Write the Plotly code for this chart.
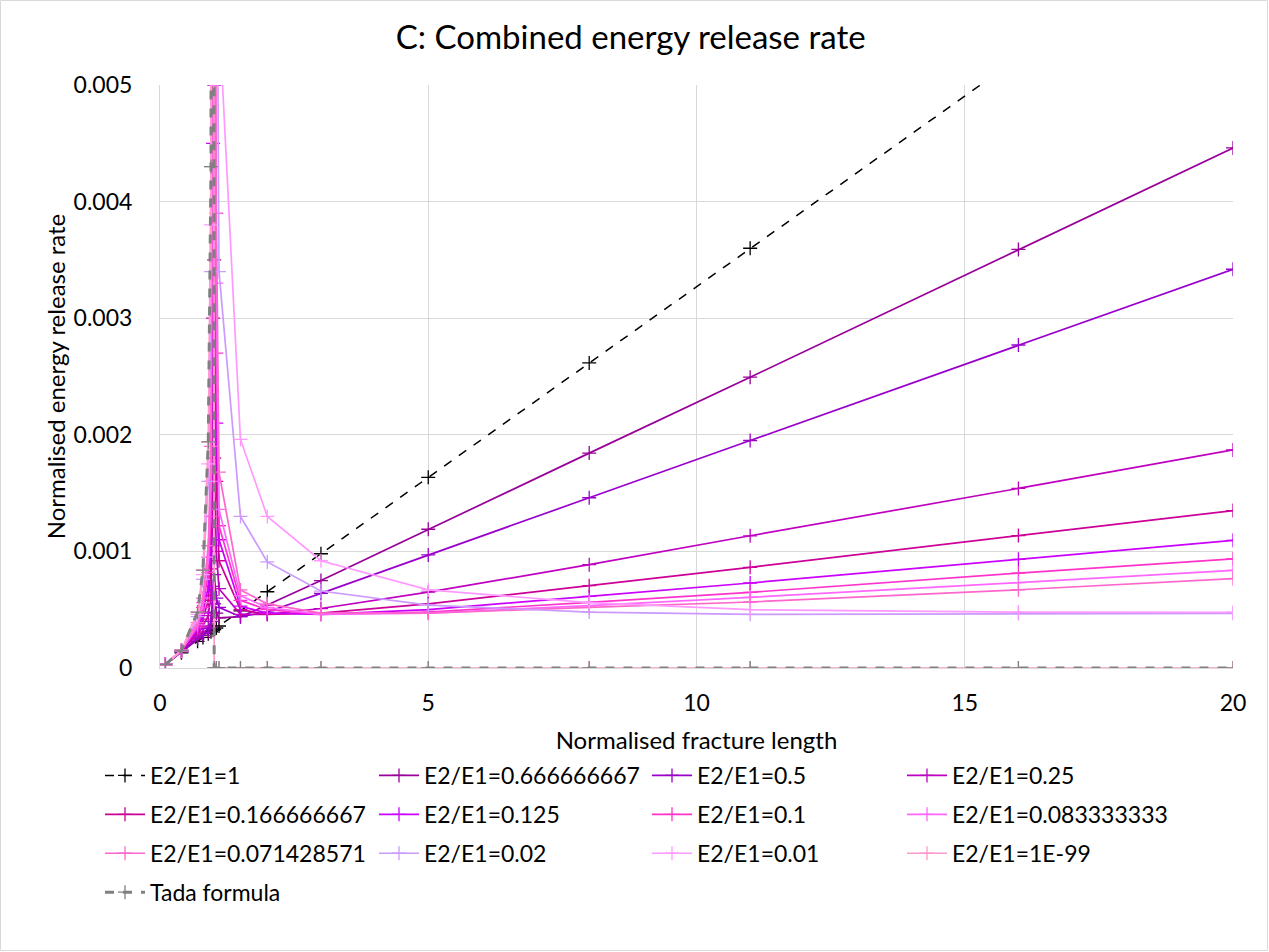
import plotly.graph_objects as go

# ---------------- data ----------------
x_pts = [0.1, 0.4, 0.7, 0.8, 0.9, 0.95, 0.99, 1.01, 1.05, 1.1, 1.5, 2, 3, 5, 8, 11, 16, 20]

ratio_1 = [0.033, 0.13, 0.229, 0.262, 0.294, 0.311, 0.324, 0.33, 0.343, 0.36, 0.49, 0.654, 0.98, 1.635, 2.616, 3.6, 5.23, 6.54]
ratio_0_6667 = [0.03, 0.14, 0.25, 0.28, 0.31, 0.35, 0.48, 0.55, 0.47, 0.43, 0.44, 0.54, 0.75, 1.19, 1.843, 2.494, 3.59, 4.46]
ratio_0_5 = [0.03, 0.14, 0.26, 0.30, 0.34, 0.40, 0.70, 0.80, 0.60, 0.52, 0.44, 0.48, 0.64, 0.97, 1.46, 1.951, 2.77, 3.42]
ratio_0_25 = [0.03, 0.145, 0.29, 0.36, 0.45, 0.62, 1.6, 1.8, 1.0, 0.68, 0.46, 0.46, 0.51, 0.65, 0.886, 1.134, 1.54, 1.87]
ratio_0_1667 = [0.03, 0.15, 0.31, 0.42, 0.58, 0.85, 3.0, 3.5, 1.6, 0.92, 0.50, 0.46, 0.47, 0.55, 0.706, 0.863, 1.136, 1.35]
ratio_0_125 = [0.03, 0.15, 0.33, 0.47, 0.70, 1.05, 4.5, 5.0, 2.1, 1.10, 0.53, 0.47, 0.46, 0.50, 0.614, 0.729, 0.932, 1.095]
ratio_0_1 = [0.03, 0.15, 0.35, 0.52, 0.82, 1.3, 6.0, 6.5, 2.7, 1.22, 0.58, 0.50, 0.46, 0.48, 0.563, 0.649, 0.814, 0.936]
ratio_0_0833 = [0.03, 0.15, 0.37, 0.56, 0.95, 1.6, 7.5, 8.0, 3.3, 1.36, 0.62, 0.52, 0.46, 0.47, 0.535, 0.606, 0.732, 0.837]
ratio_0_0714 = [0.03, 0.15, 0.39, 0.60, 1.05, 1.9, 9.0, 9.5, 3.9, 1.68, 0.67, 0.55, 0.47, 0.47, 0.52, 0.566, 0.671, 0.766]
ratio_0_02 = [0.03, 0.15, 0.44, 0.76, 1.6, 3.4, 20, 20, 7.4, 3.4, 1.3, 0.91, 0.66, 0.54, 0.48, 0.46, 0.468, 0.468]
ratio_0_01 = [0.03, 0.15, 0.46, 0.80, 1.75, 3.8, 23, 30, 12, 5.6, 1.96, 1.30, 0.92, 0.67, 0.56, 0.50, 0.48, 0.478]
ratio_1e_99 = [0.03, 0.15, 0.48, 0.84, 1.94, 4.3, 26, 0, 0, 0, 0, 0, 0, 0, 0, 0, 0, 0]
tada = [0.03, 0.15, 0.48, 0.84, 1.94, 4.3, 26, 0, 0, 0, 0, 0, 0, 0, 0, 0, 0, 0]

series_names = ["E2/E1=1", "E2/E1=0.666666667", "E2/E1=0.5", "E2/E1=0.25",
                "E2/E1=0.166666667", "E2/E1=0.125", "E2/E1=0.1", "E2/E1=0.083333333",
                "E2/E1=0.071428571", "E2/E1=0.02", "E2/E1=0.01", "E2/E1=1E-99",
                "Tada formula"]
series_vals = [ratio_1, ratio_0_6667, ratio_0_5, ratio_0_25, ratio_0_1667, ratio_0_125,
               ratio_0_1, ratio_0_0833, ratio_0_0714, ratio_0_02, ratio_0_01, ratio_1e_99, tada]
value_scale = 1e-3  # values above are in units of 0.001

x_ticks = [0, 5, 10, 15, 20]
y_ticks = [0, 0.001, 0.002, 0.003, 0.004, 0.005]
y_tick_text = ["0", "0.001", "0.002", "0.003", "0.004", "0.005"]

# ---------------- styles ----------------
colors = ["#000000", "#990099", "#9900CC", "#C000C0", "#CC0099", "#CC00FF",
          "#FF33CC", "#FF66FF", "#FF66CC", "#CC99FF", "#FF99FF", "#FF99CC", "#808080"]
dashes = ["dash"] + ["solid"] * 11 + ["dash"]
widths = [1.5] + [1.7] * 11 + [3]

FONT = "Lato"
W, H = 1269, 952
ML, MR, MT, MB = 160, 36, 85, 284
pw = W - ML - MR
ph = H - MT - MB

legend_ids = ["legend", "legend2", "legend3", "legend4"]
legend_left_px = [100, 374, 647, 902]
legend_top_px = 754

fig = go.Figure()
for i, (name, vals, col, dsh, wd) in enumerate(zip(series_names, series_vals, colors, dashes, widths)):
    fig.add_trace(go.Scatter(
        x=x_pts, y=[v * value_scale for v in vals], name=name, mode="lines+markers",
        line=dict(color=col, dash=dsh, width=wd),
        marker=dict(symbol="cross-thin", size=10, line=dict(color=col, width=1.3)),
        legend=legend_ids[i % 4], legendgroup=f"g{i}",
    ))

fig.add_shape(type="rect", xref="paper", yref="paper",
              x0=-(ML - 0.5) / pw, x1=(pw + MR - 1.5) / pw,
              y0=-(MB - 1.5) / ph, y1=(ph + MT - 0.5) / ph,
              line=dict(color="#D9D9D9", width=1), fillcolor="rgba(0,0,0,0)", layer="below")

legend_common = dict(orientation="v", xanchor="left", yanchor="top",
                     y=-(legend_top_px - (MT + ph)) / ph,
                     font=dict(size=23, family=FONT, color="#000000"),
                     itemwidth=40, traceorder="grouped", tracegroupgap=6,
                     bgcolor="rgba(0,0,0,0)")
legend_layout = {lid: dict(legend_common, x=(lx - ML) / pw)
                 for lid, lx in zip(legend_ids, legend_left_px)}

fig.update_layout(
    width=W, height=H,
    margin=dict(l=ML, r=MR, t=MT, b=MB),
    paper_bgcolor="white", plot_bgcolor="white",
    font=dict(family=FONT, size=23, color="#000000"),
    title=dict(text="C: Combined energy release rate", x=0.497, xref="container",
               y=1 - 37 / H, yref="container", xanchor="center", yanchor="middle",
               font=dict(size=33, family=FONT, color="#000000")),
    xaxis=dict(range=[0, 20], tickvals=x_ticks, showgrid=True, gridcolor="#D9D9D9",
               gridwidth=1, zeroline=False, showline=True, linecolor="#D9D9D9",
               ticks="", tickfont=dict(size=23), ticklabelstandoff=14,
               title=dict(text="Normalised fracture length", font=dict(size=24), standoff=17)),
    yaxis=dict(range=[0, 0.005], tickvals=y_ticks, ticktext=y_tick_text, showgrid=True,
               gridcolor="#D9D9D9", gridwidth=1, zeroline=False, showline=True,
               linecolor="#D9D9D9", ticks="", tickfont=dict(size=23), ticklabelstandoff=22,
               title=dict(text="Normalised energy release rate", font=dict(size=24), standoff=1)),
    showlegend=True,
    **legend_layout,
)

fig.write_html("out.html")
